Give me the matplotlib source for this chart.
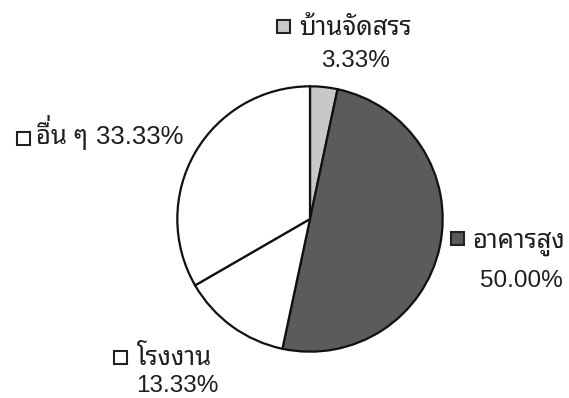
import matplotlib
matplotlib.use("Agg")
import matplotlib.pyplot as plt
from matplotlib.patches import Rectangle
from matplotlib.transforms import IdentityTransform

# data
categories = ["บ้านจัดสรร", "อาคารสูง", "โรงงาน", "อื่น ๆ"]
shares = [3.33, 50.00, 13.33, 33.33]
slice_colors = ["#c8c8c8", "#5b5b5b", "#ffffff", "#ffffff"]

W, H = 569, 398
NUM_FONT = ["Liberation Sans", "DejaVu Sans"]
THAI_FONT = ["Noto Sans Thai Looped", "DejaVu Sans"]
INK = "#1e1e1e"

fig = plt.figure(figsize=(W / 100, H / 100), dpi=100)
fig.patch.set_facecolor("white")

# pie: centre (310, 219) px from top-left, radius 134 px
cx, cy, r = 310, 219, 134
ax = fig.add_axes([(cx - r) / W, (H - cy - r) / H, 2 * r / W, 2 * r / H])
ax.pie(shares, colors=slice_colors, startangle=90, counterclock=False,
       wedgeprops=dict(edgecolor="#111111", linewidth=1.6))
ax.set_xlim(-1.01, 1.01)
ax.set_ylim(-1.01, 1.01)
ax.set_aspect("equal")
ax.axis("off")

renderer = fig.canvas.get_renderer()
TONE_MARKS = "\u0e48\u0e49\u0e4a\u0e4b"
UPPER_VOWELS = "\u0e31\u0e34\u0e35\u0e36\u0e37"


def px_text(x, y, s, thai=False, **kw):
    # x, y in pixels from top-left, y is the baseline
    if thai:
        kw.setdefault("fontsize", 18.5)
        kw.setdefault("family", THAI_FONT)
        kw.setdefault("weight", "medium")
    else:
        kw.setdefault("fontsize", 17.5)
        kw.setdefault("family", NUM_FONT)
    return fig.text(x / W, (H - y) / H, s, color=INK, va="baseline", **kw)


def thai_text(x, y, s):
    # matplotlib has no Thai shaping: a tone mark over an upper vowel is
    # lifted by hand so the two don't collide
    plain, lifted = "", []
    for i, ch in enumerate(s):
        if ch in TONE_MARKS and i > 0 and s[i - 1] in UPPER_VOWELS:
            lifted.append((len(plain), ch))
        else:
            plain += ch
    px_text(x, y, plain, thai=True)
    for pos, ch in lifted:
        t = px_text(x, y, plain[:pos], thai=True, alpha=0)
        w = t.get_window_extent(renderer).width
        t.remove()
        # trailing space gives the lone mark a real extent
        px_text(x + w + 1, y - 6, ch + " ", thai=True)


def key_box(x, y, color, size=13):
    # x, y = top-left corner in pixels
    fig.add_artist(Rectangle((x, H - y - size), size, size, transform=IdentityTransform(),
                             facecolor=color, edgecolor="#222222", linewidth=1.5))


pct = [f"{v:.2f}%" for v in shares]

# บ้านจัดสรร
key_box(277, 20, slice_colors[0])
thai_text(299, 35, categories[0])
px_text(356, 67, pct[0], ha="center")

# อาคารสูง
key_box(451, 232, slice_colors[1])
thai_text(472, 248, categories[1])
px_text(563, 287, pct[1], ha="right")

# โรงงาน
key_box(114, 351, slice_colors[2])
thai_text(137, 365, categories[2])
px_text(218, 392, pct[2], ha="right")

# อื่น ๆ
key_box(17, 132, slice_colors[3])
thai_text(36, 144, categories[3])
px_text(96, 144, pct[3], fontsize=18.5)

fig.savefig("out.png", dpi=100)
